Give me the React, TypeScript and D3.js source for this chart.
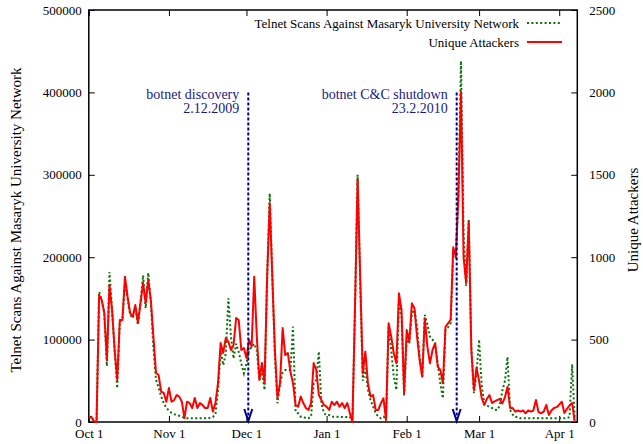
import React, { useEffect, useRef } from 'react';
import * as d3 from 'd3';

// daily samples, first one is Oct 1 2009
const startDay = new Date(2009, 9, 1);
const endDay = new Date(2010, 3, 8);

const attackers = [
  25, 32, 5, 0, 770, 740, 661, 376, 831, 680,
  437, 255, 619, 619, 882, 760, 661, 639, 710, 601,
  722, 843, 722, 862, 740, 518, 297, 285, 184, 176,
  123, 206, 123, 133, 164, 154, 123, 24, 123, 115,
  85, 146, 85, 115, 103, 85, 85, 146, 63, 115,
  237, 479, 419, 510, 487, 437, 467, 631, 619, 437,
  449, 388, 498, 457, 882, 518, 255, 358, 237, 882,
  1327, 882, 437, 146, 237, 570, 406, 419, 305, 237,
  103, 93, 154, 115, 85, 73, 115, 358, 316, 164,
  133, 103, 93, 73, 123, 103, 123, 93, 115, 85,
  115, 55, 0, 700, 1473, 882, 295, 427, 235, 154,
  164, 73, 73, 113, 144, 12, 599, 518, 417, 356,
  781, 680, 174, 558, 487, 720, 690, 518, 376, 275,
  629, 457, 356, 437, 478, 336, 316, 235, 578, 599,
  619, 1060, 1003, 1380, 2004, 1000, 843, 1215, 440, 194,
  330, 250, 146, 103, 140, 164, 115, 125, 133, 140,
  113, 150, 214, 85, 85, 63, 70, 63, 70, 53,
  70, 63, 70, 133, 60, 53, 63, 103, 42, 70,
  85, 90, 105, 123, 55, 80, 100, 115, 0,
];

const scans = [
  5000, 6000, 1000, 0, 158000, 148000, 132000, 68000, 182000, 136000,
  87000, 41000, 122000, 124000, 170000, 150000, 130000, 126000, 140000, 118000,
  145000, 178000, 138000, 181000, 145000, 90000, 51000, 42000, 31000, 23000,
  17000, 14000, 11000, 9500, 8500, 7500, 6400, 5000, 4500, 4500,
  4500, 4500, 4500, 4500, 4500, 4500, 4500, 5000, 6000, 10000,
  39000, 87000, 69000, 83000, 150000, 103500, 77000, 95000, 85000, 71000,
  59000, 71000, 87000, 91000, 95000, 87000, 51000, 63000, 38800, 176000,
  277500, 176000, 79000, 22700, 47000, 60000, 63000, 63000, 63000, 115700,
  12500, 10500, 6500, 6500, 4500, 4500, 6500, 47000, 51000, 85400,
  22700, 10500, 8500, 8500, 6500, 6500, 6500, 6000, 6000, 6000,
  6000, 6500, 400, 140000, 300000, 170000, 50000, 65000, 38800, 26700,
  18700, 10600, 6500, 4500, 6500, 4500, 115000, 87000, 55000, 39000,
  148000, 128000, 32000, 103000, 95000, 132000, 136000, 115000, 79000, 55000,
  130000, 118000, 103600, 100000, 95000, 71000, 47000, 28700, 111600, 115000,
  120000, 205000, 200000, 270000, 438000, 230000, 165000, 245000, 90000, 35000,
  60000, 100000, 45000, 23000, 20000, 18500, 17000, 15000, 14500, 20000,
  38000, 50000, 79000, 14500, 9000, 6000, 6000, 4500, 4500, 4500,
  4500, 4500, 4500, 5000, 4500, 4500, 4500, 4500, 4500, 4500,
  4500, 4500, 4500, 5000, 4500, 4500, 6000, 70000, 3000,
];

const monthTicks = [
  new Date(2009, 9, 1), new Date(2009, 10, 1), new Date(2009, 11, 1),
  new Date(2010, 0, 1), new Date(2010, 1, 1), new Date(2010, 2, 1), new Date(2010, 3, 1),
];
const scanTicks = [0, 100000, 200000, 300000, 400000, 500000];
const attackerTicks = [0, 500, 1000, 1500, 2000, 2500];

const events = [
  { date: new Date(2009, 11, 1, 17), top: 400000, name: 'botnet discovery', when: '2.12.2009' },
  { date: new Date(2010, 1, 20, 8), top: 400000, name: 'botnet C&C shutdown', when: '23.2.2010' },
];

const legend = [
  { label: 'Telnet Scans Against Masaryk University Network', color: '#0b700b', dash: '2,2.4' },
  { label: 'Unique Attackers', color: '#ff0000', dash: null },
];

const font = "'Liberation Serif', 'Times New Roman', serif";

const App = () => {
  const svgRef = useRef(null);

  useEffect(() => {
    const svg = d3.select(svgRef.current);
    svg.selectAll('*').remove();

    const left = 88.8, right = 577.3, top = 10, bottom = 422;

    const x = d3.scaleTime().domain([startDay, endDay]).range([left, right]);
    const yL = d3.scaleLinear().domain([0, 500000]).range([bottom, top]);
    const yR = d3.scaleLinear().domain([0, 2500]).range([bottom, top]);
    const days = scans.map((_, i) => d3.timeDay.offset(startDay, i));

    const styleAxis = (g) => {
      g.select('.domain').remove();
      g.selectAll('line').attr('stroke', '#000');
      g.selectAll('text').attr('font-family', font).attr('font-size', 13).attr('fill', '#000');
    };

    svg.append('g')
      .attr('transform', `translate(${left},0)`)
      .call(d3.axisLeft(yL).tickValues(scanTicks).tickSize(-6).tickPadding(7).tickFormat(d3.format('d')))
      .call(styleAxis);

    svg.append('g')
      .attr('transform', `translate(${right},0)`)
      .call(d3.axisRight(yR).tickValues(attackerTicks).tickSize(-6).tickPadding(12).tickFormat(d3.format('d')))
      .call(styleAxis);

    svg.append('g')
      .attr('transform', `translate(0,${bottom})`)
      .call(d3.axisBottom(x).tickValues(monthTicks).tickSize(-6).tickPadding(7).tickFormat(d3.timeFormat('%b %-d')))
      .call(styleAxis);

    svg.append('g')
      .attr('transform', `translate(0,${top})`)
      .call(d3.axisTop(x).tickValues(monthTicks).tickSize(-6).tickFormat(() => ''))
      .call(styleAxis);

    svg.append('rect')
      .attr('x', left).attr('y', top)
      .attr('width', right - left).attr('height', bottom - top)
      .attr('fill', 'none').attr('stroke', '#000').attr('stroke-width', 1.5);

    // axis titles
    svg.append('text')
      .attr('transform', `translate(16,${(top + bottom) / 2 + 4}) rotate(-90)`)
      .attr('text-anchor', 'middle').attr('dy', '0.35em')
      .attr('font-family', font).attr('font-size', 15)
      .text('Telnet Scans Against Masaryk University Network');

    svg.append('text')
      .attr('transform', `translate(633,${(top + bottom) / 2 + 4}) rotate(-90)`)
      .attr('text-anchor', 'middle').attr('dy', '0.35em')
      .attr('font-family', font).attr('font-size', 15)
      .text('Unique Attackers');

    const scanLine = d3.line().x((_, i) => x(days[i])).y((d) => yL(d));
    const attLine = d3.line().x((_, i) => x(days[i])).y((d) => yR(d));

    svg.append('path')
      .attr('d', scanLine(scans))
      .attr('fill', 'none').attr('stroke', legend[0].color)
      .attr('stroke-width', 2).attr('stroke-dasharray', legend[0].dash);

    svg.append('path')
      .attr('d', attLine(attackers))
      .attr('fill', 'none').attr('stroke', legend[1].color)
      .attr('stroke-width', 2).attr('stroke-linejoin', 'round');

    // event arrows
    events.forEach((ev) => {
      const ex = x(ev.date);
      const y0 = yL(ev.top);
      const y1 = yL(0);
      svg.append('line')
        .attr('x1', ex).attr('x2', ex).attr('y1', y0).attr('y2', y1 - 2)
        .attr('stroke', '#000088').attr('stroke-width', 2).attr('stroke-dasharray', '3,2');
      svg.append('path')
        .attr('d', `M${ex - 4},${y1 - 13}L${ex},${y1 - 1}L${ex + 4},${y1 - 13}`)
        .attr('fill', 'none').attr('stroke', '#000088').attr('stroke-width', 2);
      svg.append('text')
        .attr('x', ex - 9).attr('y', y0 + 7)
        .attr('text-anchor', 'end')
        .attr('font-family', font).attr('font-size', 14).attr('fill', '#1a1a7e')
        .text(ev.name);
      svg.append('text')
        .attr('x', ex - 9).attr('y', y0 + 21)
        .attr('text-anchor', 'end')
        .attr('font-family', font).attr('font-size', 14).attr('fill', '#1a1a7e')
        .text(ev.when);
    });

    // legend
    legend.forEach((item, i) => {
      const ly = 23 + i * 19;
      svg.append('text')
        .attr('x', 519).attr('y', ly).attr('dy', '0.35em')
        .attr('text-anchor', 'end')
        .attr('font-family', font).attr('font-size', 13)
        .text(item.label);
      svg.append('line')
        .attr('x1', 527).attr('x2', 562).attr('y1', ly).attr('y2', ly)
        .attr('stroke', item.color).attr('stroke-width', 2)
        .attr('stroke-dasharray', item.dash);
    });
  }, []);

  return (
    <svg ref={svgRef} width={643} height={444}
      style={{ position: 'absolute', left: 0, top: 0, background: '#fff' }} />
  );
};

export default App;
